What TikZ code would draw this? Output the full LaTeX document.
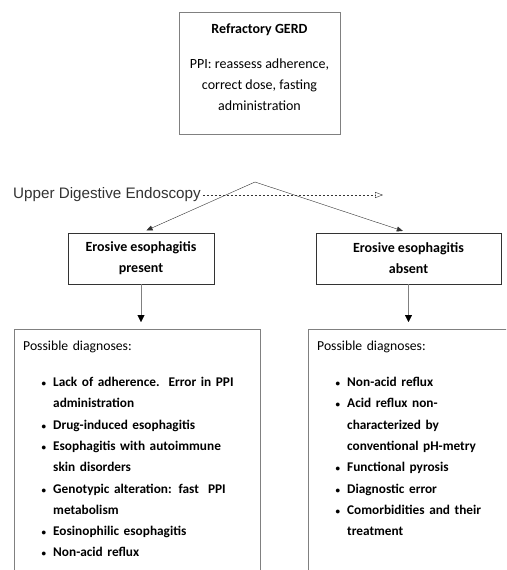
\documentclass[tikz,border=0pt]{standalone}
\usepackage{fontspec}
\setmainfont{Carlito}
\newfontfamily\arialfont{Liberation Sans}
\usetikzlibrary{arrows.meta,positioning,calc}
\definecolor{framegray}{HTML}{808080}
\definecolor{inkgray}{HTML}{333333}
\tikzset{
  >={Triangle[length=6pt, width=5pt]},
  mainbox/.style={draw=framegray, align=center, font=\fontsize{14}{21}\selectfont, minimum width=161pt, minimum height=122pt},
  esobox/.style={draw=inkgray, align=center, font=\fontsize{14}{21}\selectfont\bfseries, minimum height=51pt, inner sep=0pt},
  dxbox/.style={draw=framegray, anchor=north west, inner xsep=9pt, inner ysep=0pt, font=\fontsize{13.7}{21.3}\selectfont},
  downarrow/.style={draw=framegray, -{Triangle[length=7pt, width=7pt, black]}, shorten >=7pt},
}
% list of possible diagnoses inside a bottom box
\newcommand{\dxlist}[2]{%
  \begin{minipage}[t][260pt][t]{#1}
  \raggedright\rule{0pt}{21pt}Possible diagnoses:
  \begin{list}{\fontsize{9}{9}\selectfont\textbullet}{\setlength{\leftmargin}{30pt}\setlength{\labelsep}{7pt}%
    \setlength{\topsep}{15pt}\setlength{\partopsep}{0pt}\setlength{\parsep}{0pt}\setlength{\itemsep}{0pt}}
  \fontsize{13.3}{21.3}\selectfont\bfseries #2
  \end{list}
  \end{minipage}}

\begin{document}
\begin{tikzpicture}[x=1pt, y=-1pt]
  \useasboundingbox (0,0) rectangle (506,570);
  \fill[white] (0,0) rectangle (506,570);
  \clip (0,0) rectangle (506,570);

  \node[mainbox] (gerd) at (259.5,73) {\textbf{Refractory GERD}\\[14pt]PPI: reassess adherence,\\correct dose, fasting\\administration\\[-9pt]\mbox{}};

  \node[anchor=west, inner sep=2pt, text=inkgray, font=\arialfont\fontsize{15.2}{18}\selectfont] (ude) at (11,195) {Upper Digestive Endoscopy};
  \coordinate (split) at (255,182);
  \coordinate (udeend) at (383,195);

  \node[esobox, minimum width=146pt] (present) at (141,258.5) {Erosive esophagitis\\present};
  \node[esobox, minimum width=185pt] (absent) at (408.5,258.5) {Erosive esophagitis\\absent};

  \node[dxbox, text width=228pt] (dxpresent) at (14,329) {\dxlist{228pt}{%
    \item Lack of adherence.\ \ Error in PPI\\administration
    \item Drug-induced esophagitis
    \item Esophagitis with autoimmune\\skin disorders
    \item Genotypic alteration: fast\ \ PPI\\metabolism
    \item Eosinophilic esophagitis
    \item Non-acid reflux}};
  \node[dxbox, text width=200pt] (dxabsent) at (308,329) {\dxlist{200pt}{%
    \item Non-acid reflux
    \item Acid reflux non-\\characterized by\\conventional pH-metry
    \item Functional pyrosis
    \item Diagnostic error
    \item Comorbidities and their\\treatment}};

  \draw[dashed, dash pattern=on 2.5pt off 1.5pt, inkgray, -{Triangle[open, length=8pt, width=6pt]}] (ude.east) -- (udeend);
  \draw[->, inkgray, shorten >=6pt] (split) -- (present.north);
  \draw[->, inkgray, shorten >=6pt] (split) -- (absent.north);
  \draw[downarrow] (present.south) -- (present.south |- dxpresent.north);
  \draw[downarrow] (absent.south) -- (absent.south |- dxabsent.north);
\end{tikzpicture}
\end{document}
